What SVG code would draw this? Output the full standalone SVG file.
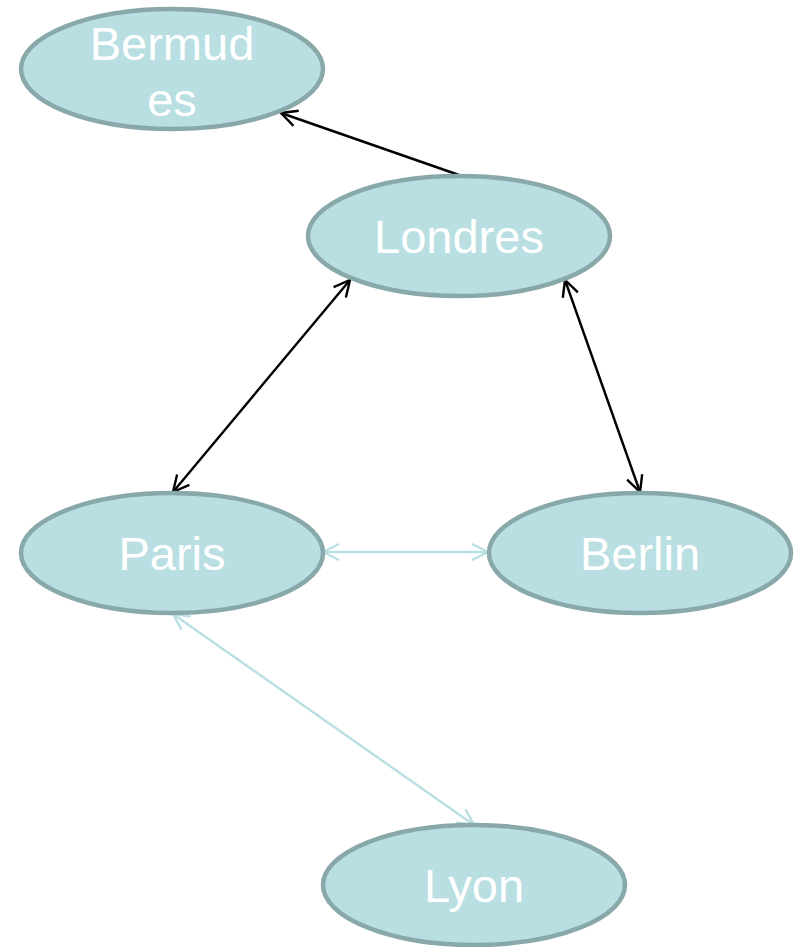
<svg xmlns="http://www.w3.org/2000/svg" width="802" height="947" viewBox="0 0 802 947">
<style>
.node{fill:#b9dfe3;stroke:#88a8aa;stroke-width:4.5}
.lbl{fill:#ffffff;font-family:"Liberation Sans",Arial,sans-serif;font-size:47px;text-anchor:middle}
.dark{stroke:#000000;stroke-width:2.4;fill:none}
.light{stroke:#b9dfe3;stroke-width:2.4;fill:none}
</style>
<defs>
<marker id="ad" viewBox="0 0 20 20" refX="18" refY="10" markerWidth="20" markerHeight="20" markerUnits="userSpaceOnUse" orient="auto-start-reverse">
<path d="M2,2 L18,10 L2,18" fill="none" stroke="#000000" stroke-width="2.4"/>
</marker>
<marker id="al" viewBox="0 0 20 20" refX="18" refY="10" markerWidth="20" markerHeight="20" markerUnits="userSpaceOnUse" orient="auto-start-reverse">
<path d="M2,2 L18,10 L2,18" fill="none" stroke="#b9dfe3" stroke-width="2.4"/>
</marker>
</defs>
<g id="connectors">
<line class="dark" x1="459" y1="175" x2="281" y2="113" marker-end="url(#ad)"/>
<line class="dark" x1="350" y1="280" x2="173" y2="492" marker-start="url(#ad)" marker-end="url(#ad)"/>
<line class="dark" x1="565" y1="280" x2="640" y2="492" marker-start="url(#ad)" marker-end="url(#ad)"/>
<line class="light" x1="323" y1="552" x2="488" y2="552" marker-start="url(#al)" marker-end="url(#al)"/>
<line class="light" x1="173" y1="614" x2="474" y2="825" marker-start="url(#al)" marker-end="url(#al)"/>
</g>
<g id="bermudes">
<ellipse class="node" cx="172" cy="69" rx="151" ry="60"/>
<text class="lbl" x="172" y="60">Bermud</text>
<text class="lbl" x="172" y="116">es</text>
</g>
<g id="londres">
<ellipse class="node" cx="459" cy="236" rx="151" ry="60"/>
<text class="lbl" x="459" y="253">Londres</text>
</g>
<g id="paris">
<ellipse class="node" cx="172" cy="553" rx="151" ry="60"/>
<text class="lbl" x="172" y="570">Paris</text>
</g>
<g id="berlin">
<ellipse class="node" cx="640" cy="553" rx="151" ry="60"/>
<text class="lbl" x="640" y="570">Berlin</text>
</g>
<g id="lyon">
<ellipse class="node" cx="474" cy="885" rx="151" ry="60"/>
<text class="lbl" x="474" y="902">Lyon</text>
</g>
</svg>
